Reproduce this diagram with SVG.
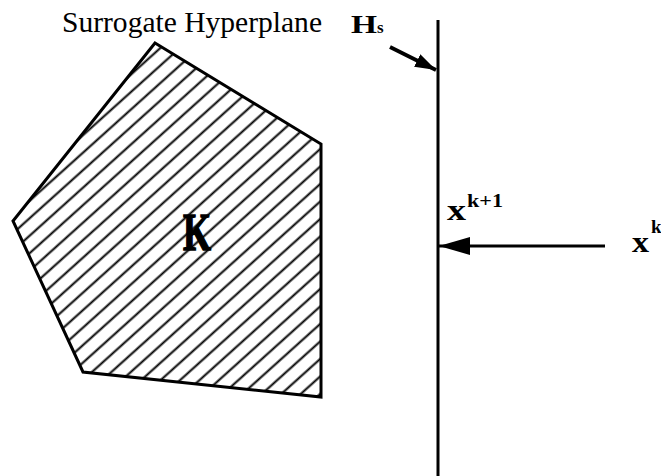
<svg xmlns="http://www.w3.org/2000/svg" width="661" height="476" viewBox="0 0 661 476">
<style>
.t{font-family:"Liberation Serif","Times New Roman",serif;fill:#000}
.b{font-weight:bold}
.ln{stroke:#000;fill:none}
</style>
<defs>
<pattern id="hatch" patternUnits="userSpaceOnUse" width="20" height="13" patternTransform="translate(313,138) rotate(-42) translate(0,-6.5)">
<line x1="-1" y1="6.5" x2="21" y2="6.5" stroke="#000" stroke-width="2"/>
</pattern>
<marker id="ah" markerUnits="userSpaceOnUse" markerWidth="32" markerHeight="20" refX="31" refY="10" orient="auto">
<path d="M0,1 L31,10 L0,19 Z" fill="#000"/>
</marker>
<marker id="ah2" markerUnits="userSpaceOnUse" markerWidth="22" markerHeight="14" refX="21" refY="7" orient="auto">
<path d="M0,0 L21,7 L0,14 Z" fill="#000"/>
</marker>
</defs>
<g id="K">
<polygon points="155,43 321,144 321,397 83,372 13,221" fill="url(#hatch)" stroke="#000" stroke-width="3" stroke-linejoin="miter"/>
<text class="t b" x="183" y="250" font-size="52" stroke="#000" stroke-width="1.5" textLength="28" lengthAdjust="spacingAndGlyphs">K</text>
</g>
<g id="Hs">
<line class="ln" x1="438" y1="20" x2="438" y2="476" stroke-width="3"/>
<text class="t" x="62" y="32" font-size="30" textLength="260" lengthAdjust="spacingAndGlyphs">Surrogate Hyperplane</text>
<text class="t b" x="351" y="33" font-size="26" textLength="26" lengthAdjust="spacingAndGlyphs">H</text>
<text class="t b" x="377" y="33" font-size="17">s</text>
</g>
<g id="xk1">
<text class="t b" x="447" y="220" font-size="30" textLength="19" lengthAdjust="spacingAndGlyphs">x</text>
<text class="t b" x="467" y="207" font-size="19" textLength="36" lengthAdjust="spacingAndGlyphs">k+1</text>
</g>
<g id="xk">
<text class="t b" x="632" y="252" font-size="30" textLength="17" lengthAdjust="spacingAndGlyphs">x</text>
<text class="t b" x="651" y="233" font-size="19">k</text>
</g>
<g id="connectors">
<line class="ln" x1="605" y1="246" x2="439" y2="246" stroke-width="3" marker-end="url(#ah)"/>
<line class="ln" x1="390" y1="47" x2="436" y2="70" stroke-width="4" marker-end="url(#ah2)"/>
</g>
</svg>
